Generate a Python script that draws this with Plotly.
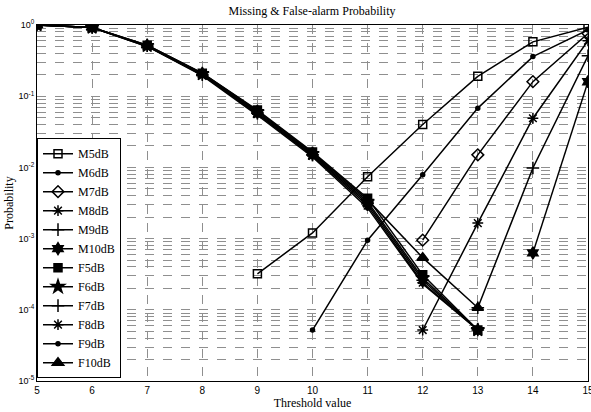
import plotly.graph_objects as go

threshold = [5, 6, 7, 8, 9, 10, 11, 12, 13, 14, 15]

M5dB = [None, None, None, None, 3.2e-4, 1.2e-3, 7.4e-3, 0.04, 0.19, 0.58, 0.93]
M6dB = [None, None, None, None, None, 5.2e-5, 9.5e-4, 7.9e-3, 0.068, 0.36, 0.85]
M7dB = [None, None, None, None, None, None, None, 9.5e-4, 0.015, 0.16, 0.76]
M8dB = [None, None, None, None, None, None, None, 5.2e-5, 1.65e-3, 0.049, 0.6]
M9dB = [None, None, None, None, None, None, None, None, 1.07e-4, 9.8e-3, 0.37]
M10dB = [None, None, None, None, None, None, None, None, None, 6.3e-4, 0.16]

F5dB = [1.0, 0.92, 0.52, 0.21, 0.064, 0.0165, 0.0037, 3.1e-4, 5.2e-5, None, None]
F6dB = [1.0, 0.92, 0.51, 0.205, 0.060, 0.0155, 0.0033, 2.8e-4, 5.2e-5, None, None]
F7dB = [1.0, 0.92, 0.51, 0.20, 0.058, 0.015, 0.0031, 2.6e-4, 5.2e-5, None, None]
F8dB = [1.0, 0.92, 0.50, 0.20, 0.056, 0.0145, 0.0029, 2.4e-4, 5.2e-5, None, None]
F9dB = [1.0, 0.92, 0.50, 0.195, 0.054, 0.014, 0.0027, 2.3e-4, 5.2e-5, None, None]
F10dB = [1.0, 0.92, 0.52, 0.21, 0.062, 0.016, 0.0035, 5.4e-4, 1.07e-4, None, None]

series = [
    ("M5dB", M5dB, "square-open", 8),
    ("M6dB", M6dB, "circle", 4),
    ("M7dB", M7dB, "diamond-open", 9),
    ("M8dB", M8dB, "asterisk-open", 9),
    ("M9dB", M9dB, "cross-thin-open", 9),
    ("M10dB", M10dB, "hexagram", 9),
    ("F5dB", F5dB, "square", 8),
    ("F6dB", F6dB, "star", 10),
    ("F7dB", F7dB, "cross-thin-open", 9),
    ("F8dB", F8dB, "asterisk-open", 9),
    ("F9dB", F9dB, "circle", 4),
    ("F10dB", F10dB, "triangle-up", 10),
]

fig = go.Figure()
for name, vals, sym, sz in series:
    fig.add_trace(go.Scatter(
        x=threshold, y=vals, name=name, mode="lines+markers",
        line=dict(color="black", width=1.5),
        marker=dict(symbol=sym, size=sz, color="black",
                    line=dict(color="black", width=1.5)),
        connectgaps=False,
    ))

grid = "#8f8f8f"
fig.update_layout(
    width=591, height=412,
    margin=dict(l=37, r=3, t=25, b=31),
    paper_bgcolor="white", plot_bgcolor="white",
    title=dict(text="Missing & False-alarm Probability", x=0.528, xanchor="center",
               y=0.975, yanchor="middle",
               font=dict(family="Liberation Serif", size=12, color="black")),
    font=dict(family="Liberation Sans", size=10, color="black"),
    showlegend=True,
    legend=dict(x=0, y=0.008, xanchor="left", yanchor="bottom",
                bordercolor="black", borderwidth=1, bgcolor="white",
                font=dict(family="Liberation Serif", size=12, color="black"),
                tracegroupgap=0, itemwidth=30),
)
fig.update_xaxes(
    range=[5, 15], dtick=1, tick0=5, automargin=False, ticklabeloverflow="allow",
    showline=True, linecolor="black", linewidth=1, mirror=True,
    ticks="", showgrid=True, gridcolor=grid, griddash="dash", gridwidth=1,
    zeroline=False,
    title=dict(text="Threshold value", font=dict(family="Liberation Serif", size=12), standoff=2),
    tickfont=dict(family="Liberation Sans", size=10),
)
fig.update_yaxes(
    type="log", range=[-5, 0], automargin=False,
    tickvals=[1e-5, 1e-4, 1e-3, 1e-2, 1e-1, 1],
    ticktext=["10<sup>-5</sup>", "10<sup>-4</sup>", "10<sup>-3</sup>", "10<sup>-2</sup>", "10<sup>-1</sup>", "10<sup>0</sup>"],
    showline=True, linecolor="black", linewidth=1, mirror=True,
    ticks="", showgrid=True, gridcolor=grid, griddash="dash", gridwidth=1,
    minor=dict(showgrid=True, gridcolor=grid, griddash="dash", gridwidth=1, ticks="", dtick="D1"),
    zeroline=False,
    title=dict(text="Probability", font=dict(family="Liberation Serif", size=12), standoff=2),
    tickfont=dict(family="Liberation Sans", size=9),
)

fig.write_html("out.html", config={"displayModeBar": False},
               post_script="document.body.style.margin='0';")
